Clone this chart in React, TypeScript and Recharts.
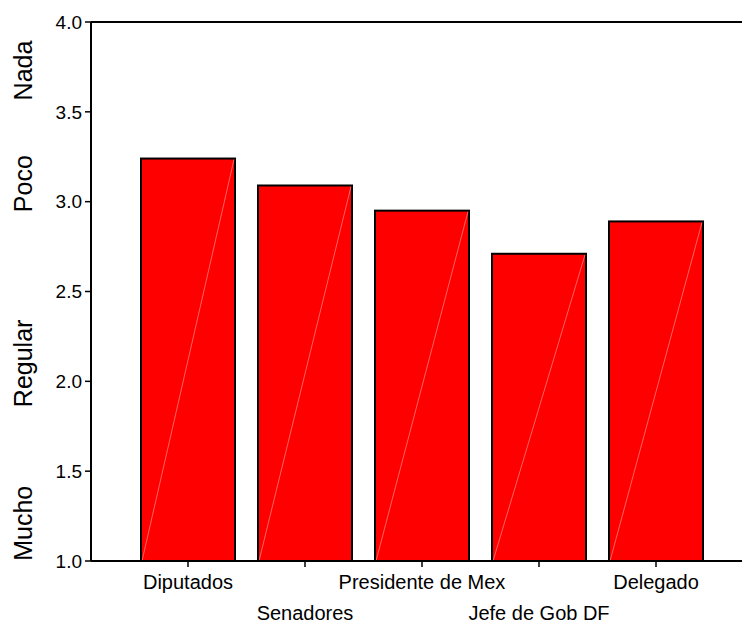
import React from 'react';
import { BarChart, Bar, XAxis, YAxis, ReferenceLine } from 'recharts';

// Institutions on the x axis
const categories: string[] = ['Diputados', 'Senadores', 'Presidente de Mex', 'Jefe de Gob DF', 'Delegado'];

// Mean rating (1 = Mucho ... 4 = Nada)
const means: number[] = [3.24, 3.09, 2.95, 2.71, 2.89];

// Numeric ticks on the y axis
const yTicks: number[] = [1.0, 1.5, 2.0, 2.5, 3.0, 3.5, 4.0];

// Word labels down the left side and where they sit on the scale
const scaleWords: string[] = ['Mucho', 'Regular', 'Poco', 'Nada'];
const scaleWordPos: number[] = [1.21, 2.1, 3.1, 3.73];

const data = categories.map((name, i) => ({ name, value: means[i] }));

const FONT = '"Liberation Sans", Arial, sans-serif';

// Red bar with black outline and the faint diagonal seen in the original
const BarShape = (props: any) => {
  const { x, y, width, height } = props;
  return (
    <g>
      <rect x={x} y={y} width={width} height={height} fill="#ff0000" stroke="#000" strokeWidth={2} />
      <line
        x1={x + 1}
        y1={y + height}
        x2={x + width - 1}
        y2={y + 1}
        stroke="#ffb0b0"
        strokeWidth={0.7}
        opacity={0.8}
      />
    </g>
  );
};

// Staggered two-row category labels
const XTick = (props: any) => {
  const { x, y, payload, index } = props;
  const dy = index % 2 === 0 ? 22 : 53;
  return (
    <text x={x} y={y + dy} textAnchor="middle" style={{ fontSize: 20, fontFamily: FONT }} fill="#000">
      {payload.value}
    </text>
  );
};

// Rotated word label, placed at the reference line's height
const WordLabel = (props: any) => {
  const { viewBox, text } = props;
  const y = viewBox.y;
  const bx = 32;
  return (
    <text
      x={bx}
      y={y}
      transform={`rotate(-90, ${bx}, ${y})`}
      textAnchor="middle"
      style={{ fontSize: 25, fontFamily: FONT }}
      fill="#000"
    >
      {text}
    </text>
  );
};

const App: React.FC = () => {
  return (
    <div style={{ fontFamily: FONT }}>
      <style>{`body{margin:0;overflow:hidden;background:#fff;font-family:"Liberation Sans",Arial,sans-serif}`}</style>
      <BarChart
        width={742}
        height={625}
        data={data}
        margin={{ top: 22, right: 0, bottom: 0, left: 48 }}
        barCategoryGap={11.5}
      >
        <XAxis
          dataKey="name"
          height={64}
          padding={{ left: 38.5, right: 27.5 }}
          axisLine={{ stroke: '#000', strokeWidth: 2 }}
          tickLine={{ stroke: '#000', strokeWidth: 1.5 }}
          tickSize={6}
          tickMargin={0}
          interval={0}
          tick={<XTick />}
        />
        <YAxis
          yAxisId="num"
          domain={[1, 4]}
          ticks={yTicks}
          interval={0}
          width={43}
          tickFormatter={(v: number) => v.toFixed(1)}
          axisLine={{ stroke: '#000', strokeWidth: 2 }}
          tickLine={{ stroke: '#000', strokeWidth: 1.5 }}
          tickSize={6}
          tickMargin={3}
          tick={{ fontSize: 19, fontFamily: FONT, fill: '#000' }}
        />
        <ReferenceLine yAxisId="num" y={4} stroke="#000" strokeWidth={2} />
        {scaleWordPos.map((v, i) => (
          <ReferenceLine
            key={scaleWords[i]}
            yAxisId="num"
            y={v}
            stroke="none"
            label={<WordLabel text={scaleWords[i]} />}
          />
        ))}
        <Bar yAxisId="num" dataKey="value" shape={<BarShape />} isAnimationActive={false} />
      </BarChart>
    </div>
  );
};

export default App;
